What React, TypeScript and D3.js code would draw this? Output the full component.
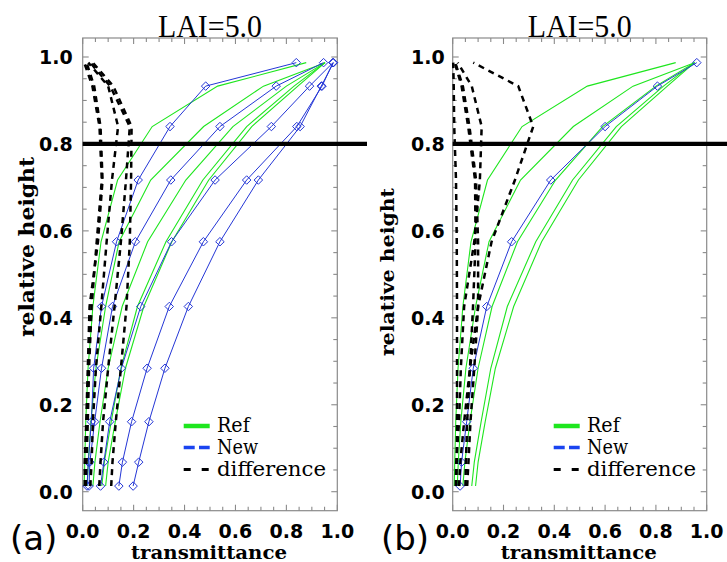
import React from "react";
import * as d3 from "d3";

// ---------- data ----------
const LEVELS = [0.013, 0.068, 0.161, 0.284, 0.426, 0.575, 0.717, 0.84, 0.933, 0.987];

// Ref (green) profiles, shared by both panels
const REF_1 = [0.006, 0.008, 0.012, 0.021, 0.04, 0.072, 0.137, 0.273, 0.53, 0.878];
const REF_2 = [0.018, 0.022, 0.032, 0.052, 0.09, 0.143, 0.267, 0.475, 0.71, 0.952];
const REF_3 = [0.04, 0.048, 0.068, 0.1, 0.155, 0.255, 0.405, 0.59, 0.8, 0.952];
const REF_4 = [0.075, 0.085, 0.112, 0.15, 0.215, 0.327, 0.472, 0.644, 0.83, 0.952];
const REF_5 = [0.09, 0.1, 0.128, 0.168, 0.24, 0.35, 0.495, 0.664, 0.845, 0.952];

// New (blue) profiles, panel (a)
const NEW_A1 = [0.017, 0.022, 0.034, 0.043, 0.074, 0.133, 0.218, 0.343, 0.483, 0.839];
const NEW_A2 = [0.025, 0.028, 0.047, 0.074, 0.117, 0.207, 0.346, 0.539, 0.76, 0.946];
const NEW_A3 = [0.07, 0.083, 0.106, 0.152, 0.228, 0.349, 0.52, 0.741, 0.891, 0.983];
const NEW_A4 = [0.142, 0.156, 0.192, 0.253, 0.34, 0.474, 0.644, 0.841, 0.94, 0.983];
const NEW_A5 = [0.198, 0.22, 0.26, 0.323, 0.415, 0.539, 0.69, 0.854, 0.937, 0.985];

// New (blue) profile, panel (b)
const NEW_B = [0.029, 0.035, 0.055, 0.081, 0.134, 0.232, 0.386, 0.6, 0.806, 0.961];

// difference (black dashed), panel (a)
const DIFF_A1 = [0.012, 0.015, 0.02, 0.025, 0.035, 0.055, 0.075, 0.066, 0.038, 0.006];
const DIFF_A2 = [0.008, 0.008, 0.014, 0.02, 0.027, 0.06, 0.078, 0.07, 0.045, 0.015];
const DIFF_A3 = [0.03, 0.035, 0.04, 0.052, 0.073, 0.094, 0.115, 0.139, 0.1, 0.022];
const DIFF_A4 = [0.065, 0.07, 0.08, 0.1, 0.125, 0.15, 0.17, 0.185, 0.108, 0.03];
const DIFF_A5 = [0.112, 0.117, 0.13, 0.15, 0.172, 0.185, 0.19, 0.192, 0.12, 0.04];

// difference (black dashed), panel (b)
const DIFF_B1 = [0.025, 0.03, 0.045, 0.068, 0.1, 0.153, 0.245, 0.317, 0.258, 0.081];
const DIFF_B2 = [0.012, 0.014, 0.025, 0.032, 0.045, 0.085, 0.107, 0.114, 0.075, 0.02];
const DIFF_B3 = [0.05, 0.052, 0.057, 0.068, 0.08, 0.09, 0.088, 0.061, 0.035, 0.008];
const DIFF_B4 = [0.057, 0.062, 0.07, 0.085, 0.1, 0.1, 0.092, 0.066, 0.04, 0.01];
const DIFF_B5 = [0.014, 0.016, 0.017, 0.017, 0.017, 0.016, 0.013, 0.006, 0.004, 0.002];

const X_TICKS = [0, 0.2, 0.4, 0.6, 0.8, 1.0];
const Y_TICKS = [0, 0.2, 0.4, 0.6, 0.8, 1.0];
const MARK_LEVEL = 0.8;
const TITLE = "LAI=5.0";
const X_TITLE = "transmittance";
const Y_TITLE = "relative height";
const LEGEND = ["Ref", "New", "difference"];

// ---------- layout ----------
const W = 727;
const H = 562;
const TOP = 38;
const BOTTOM = 510.7;

const REFS = [REF_1, REF_2, REF_3, REF_4, REF_5];

const PANELS = [
  {
    key: "a",
    left: 82.7,
    right: 337.3,
    lineEnd: 367,
    tag: "(a)",
    tagX: 10,
    tickGap: 10,
    yTitleX: 34,
    yTitleY: 247,
    yTitleLen: 180,
    yTitleSize: 19.5,
    news: [NEW_A1, NEW_A2, NEW_A3, NEW_A4, NEW_A5],
    diffs: [DIFF_A1, DIFF_A2, DIFF_A3, DIFF_A4, DIFF_A5],
  },
  {
    key: "b",
    left: 452.7,
    right: 706.7,
    lineEnd: 727,
    tag: "(b)",
    tagX: 381,
    tickGap: 8,
    yTitleX: 394,
    yTitleY: 272,
    yTitleLen: 168,
    yTitleSize: 18,
    news: [NEW_B],
    diffs: [DIFF_B1, DIFF_B2, DIFF_B3, DIFF_B4, DIFF_B5],
  },
];

const GREEN = "#1ee61e";
const BLUE = "#2436d6";
const LEG_BLUE = "#1a44f0";
const FRAME = "#8a8a8a";

const diamondSym = (d3 as any).symbolDiamond2 || d3.symbolDiamond;
const diamondPath = d3.symbol().type(diamondSym).size(46)() as string;

function Panel({ p }: { p: (typeof PANELS)[number] }) {
  const x = d3.scaleLinear().domain([0, 1]).range([p.left, p.right]);
  const y = d3.scaleLinear().domain([-0.0437, 1.0437]).range([BOTTOM, TOP]);
  const line = d3
    .line<[number, number]>()
    .x((d) => x(d[0]))
    .y((d) => y(d[1]));
  const toPts = (arr: number[]) => arr.map((v, i) => [v, LEVELS[i]] as [number, number]);

  const minor = d3.range(0, 1.0001, 0.05);
  const isMajor = (v: number) => Math.abs(v * 5 - Math.round(v * 5)) < 1e-6;
  const fmt = d3.format(".1f");
  const cx = (p.left + p.right) / 2;
  const lx0 = p.left + 101;
  const lx1 = p.left + 127;
  const ltx = p.left + 134.3;

  return (
    <g>
      {/* title */}
      <text
        x={cx}
        y={37}
        textAnchor="middle"
        fontFamily="'Liberation Serif', serif"
        fontSize={31}
        textLength={104}
        lengthAdjust="spacingAndGlyphs"
        fill="#000"
      >
        {TITLE}
      </text>

      {/* frame */}
      <rect
        x={p.left}
        y={TOP}
        width={p.right - p.left}
        height={BOTTOM - TOP}
        fill="none"
        stroke={FRAME}
        strokeWidth={1.2}
      />

      {/* ticks */}
      {minor.map((v, i) => {
        const len = isMajor(v) ? 6 : 4;
        return (
          <g key={"xt" + i} stroke={FRAME} strokeWidth={1.1}>
            <line x1={x(v)} x2={x(v)} y1={BOTTOM} y2={BOTTOM - len} />
            <line x1={x(v)} x2={x(v)} y1={TOP} y2={TOP + len} />
          </g>
        );
      })}
      {minor.map((v, i) => {
        const len = isMajor(v) ? 6 : 4;
        return (
          <g key={"yt" + i} stroke={FRAME} strokeWidth={1.1}>
            <line x1={p.left} x2={p.left + len} y1={y(v)} y2={y(v)} />
            <line x1={p.right} x2={p.right - len} y1={y(v)} y2={y(v)} />
          </g>
        );
      })}

      {/* tick labels */}
      {X_TICKS.map((v) => (
        <text
          key={"xl" + v}
          x={x(v)}
          y={537.5}
          textAnchor="middle"
          fontFamily="'DejaVu Sans', sans-serif"
          fontWeight="bold"
          fontSize={19}
          fill="#000"
        >
          {fmt(v)}
        </text>
      ))}
      {Y_TICKS.map((v) => (
        <text
          key={"yl" + v}
          x={p.left - p.tickGap}
          y={y(v) + 7}
          textAnchor="end"
          fontFamily="'DejaVu Sans', sans-serif"
          fontWeight="bold"
          fontSize={19}
          fill="#000"
        >
          {fmt(v)}
        </text>
      ))}

      {/* axis titles */}
      <text
        x={cx - 1}
        y={558.5}
        textAnchor="middle"
        fontFamily="'DejaVu Serif', serif"
        fontWeight="bold"
        fontSize={18.5}
        textLength={156}
        lengthAdjust="spacingAndGlyphs"
        fill="#000"
      >
        {X_TITLE}
      </text>
      <text
        transform={`translate(${p.yTitleX},${p.yTitleY}) rotate(-90)`}
        textAnchor="middle"
        fontFamily="'DejaVu Serif', serif"
        fontWeight="bold"
        fontSize={p.yTitleSize}
        textLength={p.yTitleLen}
        lengthAdjust="spacingAndGlyphs"
        fill="#000"
      >
        {Y_TITLE}
      </text>

      {/* panel tag */}
      <text
        x={p.tagX}
        y={550}
        fontFamily="'DejaVu Sans', sans-serif"
        fontSize={34}
        fill="#000"
      >
        {p.tag}
      </text>

      {/* Ref lines */}
      {REFS.map((r, i) => (
        <path key={"r" + i} d={line(toPts(r)) as string} fill="none" stroke={GREEN} strokeWidth={1.1} />
      ))}

      {/* New lines */}
      {p.news.map((n, i) => (
        <g key={"n" + i}>
          <path d={line(toPts(n)) as string} fill="none" stroke={BLUE} strokeWidth={1} />
          {toPts(n).map((d, j) => (
            <path
              key={j}
              d={diamondPath}
              transform={`translate(${x(d[0])},${y(d[1])})`}
              fill="none"
              stroke={BLUE}
              strokeWidth={1}
            />
          ))}
        </g>
      ))}

      {/* difference lines */}
      {p.diffs.map((dd, i) => (
        <path
          key={"d" + i}
          d={line(toPts(dd)) as string}
          fill="none"
          stroke="#000"
          strokeWidth={2.5}
          strokeDasharray="6 5"
        />
      ))}

      {/* thick reference line at 0.8 */}
      <line x1={p.left} x2={p.lineEnd} y1={y(MARK_LEVEL)} y2={y(MARK_LEVEL)} stroke="#000" strokeWidth={4.3} />

      {/* legend */}
      <line x1={lx0} x2={lx1} y1={426} y2={426} stroke={GREEN} strokeWidth={4.5} />
      <line x1={lx0} x2={lx1} y1={447.5} y2={447.5} stroke={LEG_BLUE} strokeWidth={3.7} strokeDasharray="11 4.3" />
      <line x1={lx0} x2={lx1} y1={469.5} y2={469.5} stroke="#000" strokeWidth={3} strokeDasharray="7 11" />
      {LEGEND.map((t, i) => (
        <text
          key={t}
          x={ltx}
          y={431.5 + i * 22}
          fontFamily="'DejaVu Serif', serif"
          fontSize={19.5}
          textLength={[32.7, 41, 109][i]}
          lengthAdjust="spacingAndGlyphs"
          fill="#000"
        >
          {t}
        </text>
      ))}
    </g>
  );
}

export default function App() {
  return (
    <svg
      width={W}
      height={H}
      viewBox={`0 0 ${W} ${H}`}
      style={{ position: "absolute", left: 0, top: 0, background: "#fff" }}
    >
      <rect x={0} y={0} width={W} height={H} fill="#fff" />
      {PANELS.map((p) => (
        <Panel key={p.key} p={p} />
      ))}
    </svg>
  );
}
